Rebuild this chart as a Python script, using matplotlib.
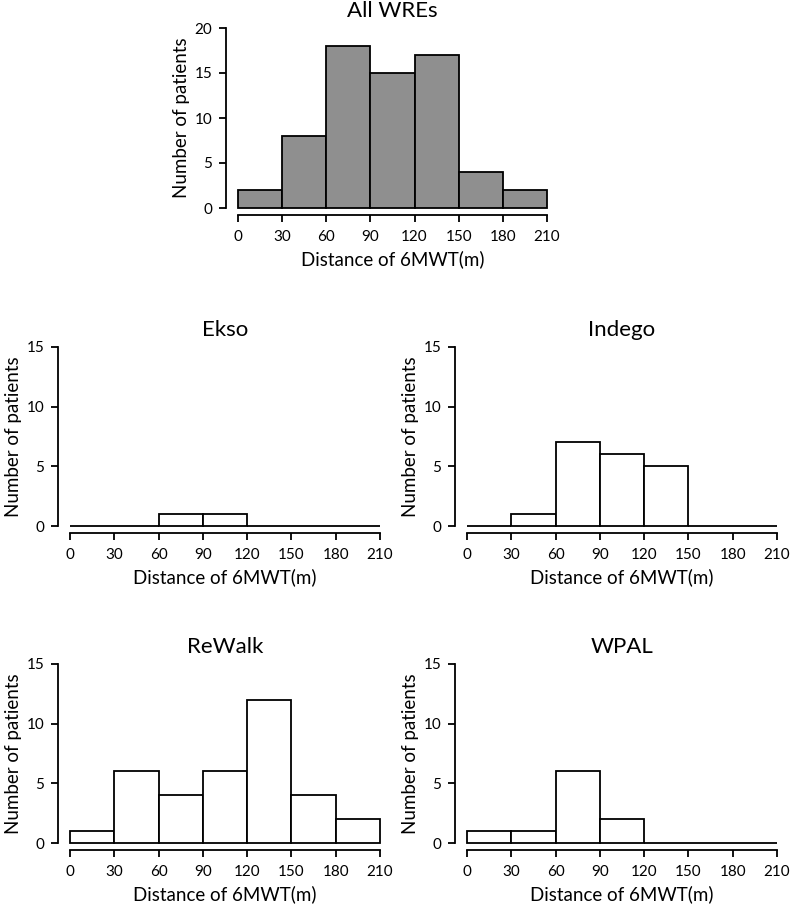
import matplotlib.pyplot as plt

plt.rcParams['font.family'] = ['Lato', 'DejaVu Sans']

bin_edges = [0, 30, 60, 90, 120, 150, 180, 210]
all_counts = [2, 8, 18, 15, 17, 4, 2]
ekso = [0, 0, 1, 1, 0, 0, 0]
indego = [0, 1, 7, 6, 5, 0, 0]
rewalk = [1, 6, 4, 6, 12, 4, 2]
wpal = [1, 1, 6, 2, 0, 0, 0]

W, H = 790, 907


def px_axes(fig, left, top, right, bottom):
    return fig.add_axes([left / W, 1 - bottom / H, (right - left) / W, (bottom - top) / H])


def draw_hist(ax, counts, title, ymax, ystep, color):
    lefts = bin_edges[:-1]
    ax.bar(lefts, counts, width=30, align='edge', color=color,
           edgecolor='black', linewidth=1.3)
    pad_x = 0.04 * (bin_edges[-1] - bin_edges[0])
    ax.set_xlim(bin_edges[0] - pad_x, bin_edges[-1] + pad_x)
    ax.set_ylim(-0.04 * ymax, ymax * 1.04)
    for s in ['top', 'right']:
        ax.spines[s].set_visible(False)
    ax.spines['left'].set_bounds(0, ymax)
    ax.spines['bottom'].set_bounds(bin_edges[0], bin_edges[-1])
    for s in ['left', 'bottom']:
        ax.spines[s].set_linewidth(1.3)
    ax.set_xticks(bin_edges)
    ax.set_yticks(range(0, ymax + 1, ystep))
    ax.tick_params(length=5, width=1.3, labelsize=11)
    ax.tick_params(axis='x', pad=5.5)
    ax.tick_params(axis='y', pad=4.5)
    ax.set_title(title, fontsize=16, pad=2)
    ax.set_xlabel('Distance of 6MWT(m)', fontsize=13.5, labelpad=5)
    ax.set_ylabel('Number of patients', fontsize=13.5, labelpad=3)
    ax.patch.set_visible(False)


fig = plt.figure(figsize=(W / 100, H / 100), dpi=100)

ax0 = px_axes(fig, 225.6, 20.8, 559.4, 215.2)
draw_hist(ax0, all_counts, 'All WREs', 20, 5, '#8f8f8f')

ax1 = px_axes(fig, 57.6, 339.8, 392.4, 533.2)
draw_hist(ax1, ekso, 'Ekso', 15, 5, 'white')

ax2 = px_axes(fig, 454.6, 339.8, 789.4, 533.2)
draw_hist(ax2, indego, 'Indego', 15, 5, 'white')

ax3 = px_axes(fig, 57.6, 656.8, 392.4, 850.2)
draw_hist(ax3, rewalk, 'ReWalk', 15, 5, 'white')

ax4 = px_axes(fig, 454.6, 656.8, 789.4, 850.2)
draw_hist(ax4, wpal, 'WPAL', 15, 5, 'white')

fig.savefig('out.png', dpi=100)
